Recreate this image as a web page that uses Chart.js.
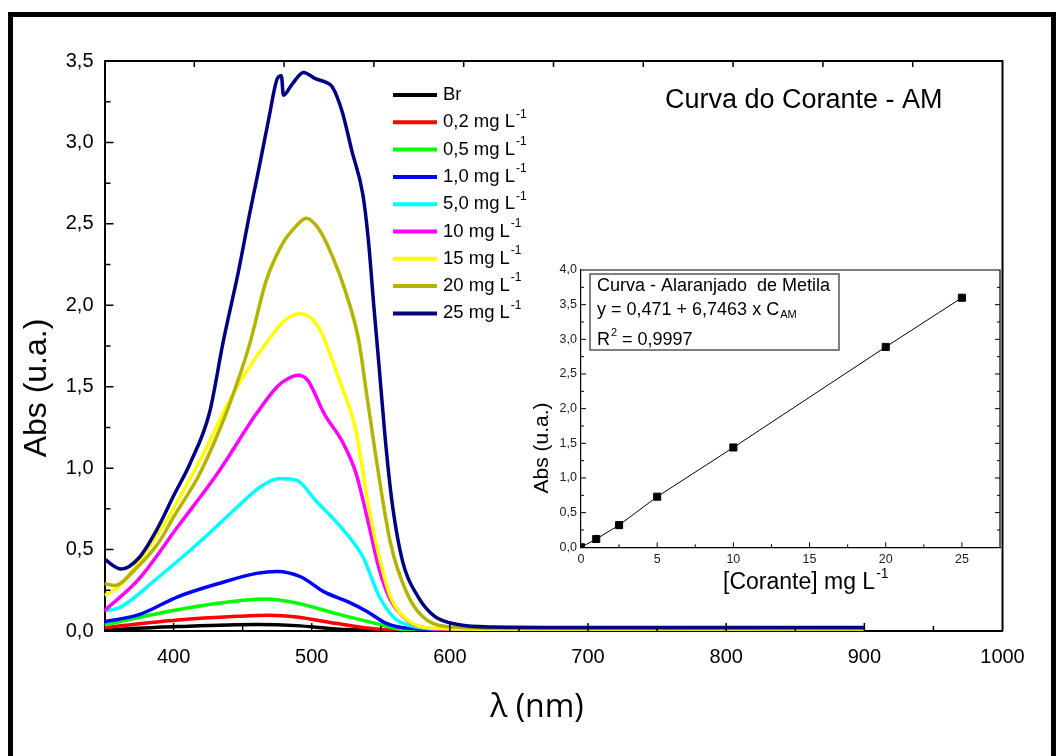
<!DOCTYPE html>
<html lang="pt">
<head>
<meta charset="UTF-8">
<title>Curva do Corante - AM</title>
<script src="https://cdn.jsdelivr.net/npm/chart.js"></script>
<style>
  html, body { margin: 0; padding: 0; background: #fff; }
  #wrap { position: relative; width: 1056px; height: 756px; overflow: hidden; }
  #mainChart { position: absolute; left: 0; top: 0; }
  #insetChart { position: absolute; left: 520px; top: 255px; }
</style>
</head>
<body>
<div id="wrap">
  <canvas id="mainChart" width="1056" height="756"></canvas>
  <canvas id="insetChart" width="490" height="345"></canvas>
</div>
<script>
// spectra (wavelength in nm, absorbance)
const wlBr = [350, 403, 460, 489, 517, 550, 600, 900];
const absBr = [0.006, 0.027, 0.04, 0.033, 0.012, 0.003, 0.0, 0.0];

const wl02 = [350, 403, 446, 469, 489, 517, 546, 570, 600, 900];
const abs02 = [0.02, 0.067, 0.09, 0.097, 0.086, 0.047, 0.012, 0.003, 0.002, 0.002];

const wl05 = [350, 389, 432, 466, 489, 517, 546, 566, 600, 900];
const abs05 = [0.037, 0.108, 0.17, 0.196, 0.172, 0.108, 0.047, 0.01, 0.005, 0.006];

const wl1 = [350, 375, 403, 432, 460, 475, 492, 509, 526, 540, 554, 569, 600, 900];
const abs1 = [0.057, 0.10, 0.21, 0.29, 0.354, 0.366, 0.333, 0.24, 0.18, 0.12, 0.047, 0.017, 0.01, 0.012];

const wl5 = [350, 360, 389, 418, 446, 463, 477, 489, 503, 523, 537, 549, 560, 574, 600, 900];
const abs5 = [0.125, 0.14, 0.33, 0.54, 0.76, 0.886, 0.936, 0.926, 0.80, 0.62, 0.456, 0.21, 0.078, 0.027, 0.01, 0.008];

const wl10 = [350, 375, 403, 432, 460, 475, 483, 490, 497, 509, 523, 532, 540, 549, 557, 569, 583, 620, 900];
const abs10 = [0.125, 0.32, 0.64, 0.97, 1.335, 1.50, 1.55, 1.57, 1.54, 1.335, 1.15, 0.97, 0.70, 0.374, 0.19, 0.067, 0.017, 0.005, 0.004];

const wl15 = [350, 360, 389, 418, 446, 469, 481, 492, 498, 506, 520, 532, 540, 549, 557, 569, 586, 650, 900];
const abs15 = [0.22, 0.27, 0.60, 1.03, 1.50, 1.79, 1.91, 1.95, 1.93, 1.85, 1.54, 1.23, 0.82, 0.45, 0.21, 0.07, 0.017, 0.01, 0.01];

const wl20 = [350, 358, 370, 389, 400, 418, 430, 440, 455, 467, 479, 488, 496, 505, 515, 525, 534, 540, 549, 557, 569, 580, 597, 650, 900];
const abs20 = [0.29, 0.28, 0.36, 0.54, 0.70, 0.95, 1.17, 1.38, 1.76, 2.15, 2.38, 2.48, 2.535, 2.47, 2.30, 2.07, 1.785, 1.44, 0.93, 0.54, 0.23, 0.09, 0.027, 0.015, 0.014];

const wl25 = [350, 362, 375, 389, 400, 412, 426, 436, 447, 455, 462, 469, 475, 478, 479.5, 486, 494, 503, 510, 515, 522, 529, 537, 541, 545, 549, 553, 558, 566, 577, 589, 606, 630, 700, 800, 900];
const abs25 = [0.44, 0.38, 0.45, 0.64, 0.83, 1.03, 1.34, 1.78, 2.21, 2.56, 2.85, 3.15, 3.39, 3.41, 3.29, 3.36, 3.43, 3.39, 3.37, 3.34, 3.19, 2.95, 2.68, 2.40, 1.99, 1.60, 1.20, 0.80, 0.42, 0.21, 0.09, 0.04, 0.025, 0.022, 0.022, 0.022];

const seriesLabels = ['Br', '0,2 mg L', '0,5 mg L', '1,0 mg L', '5,0 mg L', '10 mg L', '15 mg L', '20 mg L', '25 mg L'];
const seriesColors = ['#000000', '#ff0000', '#00ff00', '#0000ff', '#00ffff', '#ff00ff', '#ffff00', '#b3b300', '#000080'];
const seriesWl = [wlBr, wl02, wl05, wl1, wl5, wl10, wl15, wl20, wl25];
const seriesAbs = [absBr, abs02, abs05, abs1, abs5, abs10, abs15, abs20, abs25];

// calibration inset
const concentration = [0, 1, 2.5, 5, 10, 20, 25];
const absorbance = [0, 0.12, 0.32, 0.73, 1.44, 2.89, 3.60];
const insetXTicks = [0, 5, 10, 15, 20, 25];

const FONT = '"Liberation Sans", Arial, sans-serif';
Chart.defaults.font.family = FONT;
Chart.defaults.color = '#000';

function supText(ctx, base, sup, x, y, size, supSize, rise) {
  ctx.font = size + 'px ' + FONT;
  ctx.fillText(base, x, y);
  const w = ctx.measureText(base).width;
  ctx.font = supSize + 'px ' + FONT;
  ctx.fillText(sup, x + w + 1, y - rise);
}

const mainDecor = {
  id: 'mainDecor',
  afterDraw(chart) {
    const {ctx, chartArea: a, scales: {x, y}} = chart;
    ctx.save();
    // outer frame
    ctx.fillStyle = '#000';
    ctx.fillRect(8, 12, 5, 744);
    ctx.fillRect(8, 12, 1048, 5);
    ctx.fillRect(1051, 12, 5, 744);

    // top and right axis
    ctx.strokeStyle = '#000';
    ctx.lineWidth = 2;
    ctx.beginPath();
    ctx.moveTo(a.left, a.top); ctx.lineTo(a.right, a.top); ctx.lineTo(a.right, a.bottom);
    ctx.stroke();

    // inward ticks
    ctx.lineWidth = 1.5;
    ctx.beginPath();
    for (let v = 400; v < 1000; v += 50) {
      const px = x.getPixelForValue(v);
      const len = v % 100 === 0 ? 8 : 5;
      ctx.moveTo(px, a.bottom); ctx.lineTo(px, a.bottom - len);
    }
    for (let k = 1; k < 10; k++) {
      const px = x.getPixelForValue(350 + 65 * k);
      ctx.moveTo(px, a.top); ctx.lineTo(px, a.top + 6);
    }
    for (let v = 0.25; v < 3.5; v += 0.25) {
      const py = y.getPixelForValue(v);
      const len = Math.abs(v * 2 - Math.round(v * 2)) < 1e-6 ? 9 : 6;
      ctx.moveTo(a.left, py); ctx.lineTo(a.left + len, py);
    }
    ctx.stroke();

    // legend
    ctx.textBaseline = 'middle';
    ctx.textAlign = 'left';
    seriesLabels.forEach((lab, i) => {
      const ry = 95 + i * 27.3;
      ctx.strokeStyle = seriesColors[i];
      ctx.lineWidth = 4;
      ctx.beginPath();
      ctx.moveTo(393, ry); ctx.lineTo(437, ry);
      ctx.stroke();
      ctx.fillStyle = '#000';
      if (i === 0) {
        ctx.font = '18.5px ' + FONT;
        ctx.fillText(lab, 443, ry);
      } else {
        supText(ctx, lab, '-1', 443, ry, 18.5, 12, 8);
      }
    });

    // title
    ctx.font = '27px ' + FONT;
    ctx.fillText('Curva do Corante - AM', 665, 101);

    // axis titles
    ctx.textAlign = 'center';
    ctx.font = '32px ' + FONT;
    ctx.save();
    ctx.translate(37, 388);
    ctx.rotate(-Math.PI / 2);
    ctx.fillText('Abs (u.a.)', 0, 0);
    ctx.restore();
    ctx.font = '32px "Open Sans", ' + FONT;
    ctx.fillText('\u03bb (nm)', 537, 708);
    ctx.restore();
  }
};

new Chart(document.getElementById('mainChart'), {
  type: 'line',
  data: {
    datasets: seriesLabels.map((lab, i) => ({
      label: lab,
      data: seriesWl[i].map((w, j) => ({x: w, y: seriesAbs[i][j]})),
      borderColor: seriesColors[i],
      borderWidth: 3.5,
      pointRadius: 0,
      fill: false,
      cubicInterpolationMode: 'monotone',
      order: seriesLabels.length - 1 - i
    }))
  },
  options: {
    responsive: false,
    animation: false,
    devicePixelRatio: 1,
    layout: {padding: {left: 0, right: 53.5, top: 61, bottom: 0}},
    plugins: {legend: {display: false}, tooltip: {enabled: false}},
    scales: {
      x: {
        type: 'linear', min: 350, max: 1000,
        grid: {display: false, drawTicks: false},
        border: {display: true, color: '#000', width: 2},
        ticks: {
          stepSize: 50, padding: 14, maxRotation: 0, autoSkip: false,
          font: {size: 20},
          callback: v => (v % 100 === 0 ? String(v) : '')
        },
        afterFit: s => { s.height = 125; }
      },
      y: {
        min: 0, max: 3.5,
        grid: {display: false, drawTicks: false},
        border: {display: true, color: '#000', width: 2},
        ticks: {
          stepSize: 0.5, padding: 11,
          font: {size: 20},
          callback: v => Number(v).toFixed(1).replace('.', ',')
        },
        afterFit: s => { s.width = 104.5; }
      }
    }
  },
  plugins: [mainDecor]
});

const insetDecor = {
  id: 'insetDecor',
  afterDraw(chart) {
    const {ctx, chartArea: a, scales: {x, y}} = chart;
    ctx.save();
    ctx.strokeStyle = '#000';
    ctx.lineWidth = 1.2;
    ctx.beginPath();
    ctx.moveTo(a.left, a.top); ctx.lineTo(a.right, a.top); ctx.lineTo(a.right, a.bottom);
    ctx.stroke();

    ctx.lineWidth = 1;
    ctx.beginPath();
    for (let v = 2.5; v < 27.5; v += 2.5) {
      const px = x.getPixelForValue(v);
      const len = v % 5 === 0 ? 5 : 3;
      ctx.moveTo(px, a.bottom); ctx.lineTo(px, a.bottom - len);
    }
    for (let v = 0.25; v < 4; v += 0.25) {
      const py = y.getPixelForValue(v);
      const len = Math.abs(v * 2 - Math.round(v * 2)) < 1e-6 ? 5 : 3;
      ctx.moveTo(a.left, py); ctx.lineTo(a.left + len, py);
      ctx.moveTo(a.right, py); ctx.lineTo(a.right - len, py);
    }
    ctx.stroke();

    // equation box
    ctx.strokeStyle = '#555';
    ctx.lineWidth = 1.5;
    ctx.strokeRect(70, 19, 249, 76);
    ctx.fillStyle = '#000';
    ctx.textAlign = 'left';
    ctx.textBaseline = 'middle';
    ctx.font = '18px ' + FONT;
    ctx.fillText('Curva - Alaranjado  de Metila', 77, 31);
    ctx.fillText('y = 0,471 + 6,7463 x C', 77, 55);
    let w = ctx.measureText('y = 0,471 + 6,7463 x C').width;
    ctx.font = '11px ' + FONT;
    ctx.fillText('AM', 77 + w + 1, 60);
    ctx.font = '18px ' + FONT;
    ctx.fillText('R', 77, 85);
    w = ctx.measureText('R').width;
    ctx.font = '11px ' + FONT;
    ctx.fillText('2', 77 + w + 1, 78);
    ctx.font = '18px ' + FONT;
    ctx.fillText(' = 0,9997', 77 + w + 7, 85);

    // axis titles
    ctx.textAlign = 'center';
    ctx.font = '21px ' + FONT;
    ctx.save();
    ctx.translate(22, 193);
    ctx.rotate(-Math.PI / 2);
    ctx.fillText('Abs (u.a.)', 0, 0);
    ctx.restore();
    ctx.textAlign = 'left';
    supText(ctx, '[Corante] mg L', '-1', 203, 328, 23, 14, 9);
    ctx.restore();
  }
};

new Chart(document.getElementById('insetChart'), {
  type: 'line',
  data: {
    datasets: [{
      data: concentration.map((c, i) => ({x: c, y: absorbance[i]})),
      borderColor: '#000',
      borderWidth: 1,
      backgroundColor: '#000',
      pointStyle: 'rect',
      pointRadius: 5,
      tension: 0,
      fill: false
    }]
  },
  options: {
    responsive: false,
    animation: false,
    devicePixelRatio: 1,
    layout: {padding: {left: 0, right: 10, top: 15, bottom: 0}},
    plugins: {legend: {display: false}, tooltip: {enabled: false}},
    scales: {
      x: {
        type: 'linear', min: 0, max: 27.5,
        grid: {display: false, drawTicks: false},
        border: {display: true, color: '#000', width: 1.2},
        ticks: {
          padding: 5, maxRotation: 0, autoSkip: false,
          font: {size: 12.5}, color: '#222'
        },
        afterBuildTicks: s => { s.ticks = insetXTicks.map(v => ({value: v})); },
        afterFit: s => { s.height = 52.7; }
      },
      y: {
        min: 0, max: 4,
        grid: {display: false, drawTicks: false},
        border: {display: true, color: '#000', width: 1.2},
        ticks: {
          stepSize: 0.5, padding: 4,
          font: {size: 12.5}, color: '#222',
          callback: v => Number(v).toFixed(1).replace('.', ',')
        },
        afterFit: s => { s.width = 61; }
      }
    }
  },
  plugins: [insetDecor]
});
</script>
</body>
</html>
